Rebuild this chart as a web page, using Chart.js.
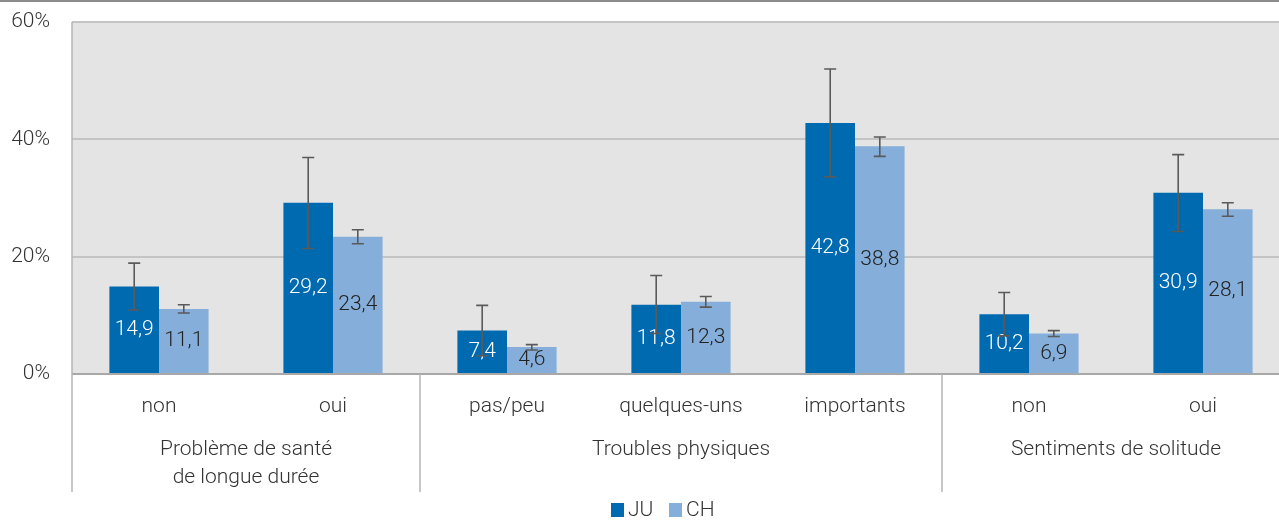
<!DOCTYPE html>
<html>
<head>
<meta charset="utf-8">
<script src="https://cdn.jsdelivr.net/npm/chart.js@4"></script>
<style>
  body { margin: 0; overflow: hidden; background: #fff; }
  #wrap { width: 1320px; height: 520px; }
</style>
</head>
<body>
<div id="wrap"><canvas id="myChart"></canvas></div>
<script>
// catégories et valeurs (en %)
const categories = ['non', 'oui', 'pas/peu', 'quelques-uns', 'importants', 'non', 'oui'];
const groupLabels = [['Problème de santé', 'de longue durée'], ['Troubles physiques'], ['Sentiments de solitude']];
const groupStart = [0, 2, 5];
const groupEnd = [1, 4, 6];

const juValues = [14.9, 29.2, 7.4, 11.8, 42.8, 10.2, 30.9];
const chValues = [11.1, 23.4, 4.6, 12.3, 38.8, 6.9, 28.1];

// intervalles de confiance
const juLow  = [10.9, 21.4, 3.1, 6.9, 33.6, 6.5, 24.3];
const juHigh = [18.9, 36.9, 11.7, 16.8, 52.0, 13.9, 37.4];
const chLow  = [10.4, 22.2, 4.1, 11.4, 37.1, 6.4, 26.9];
const chHigh = [11.8, 24.6, 5.0, 13.2, 40.4, 7.4, 29.2];

const yTicks = [0, 20, 40, 60];

const FONT = 'Roboto';
const FSIZE = 21;
const textColor = '#333333';

// fond gris, lignes de séparation, libellés des groupes et légende
const decoPlugin = {
    id: 'deco',
    beforeDraw(chart) {
        const { ctx, chartArea: a } = chart;
        ctx.save();
        ctx.fillStyle = '#e4e4e4';
        ctx.fillRect(a.left, a.top, a.right - a.left, a.bottom - a.top);
        ctx.restore();
    },
    afterDraw(chart) {
        const { ctx, chartArea: a } = chart;
        const x = chart.scales.x;
        const bottom = 492;
        ctx.save();
        // ligne en haut de l'image
        ctx.strokeStyle = '#8c8c8c';
        ctx.lineWidth = 2;
        ctx.beginPath();
        ctx.moveTo(0, 1);
        ctx.lineTo(chart.width, 1);
        ctx.stroke();

        ctx.strokeStyle = '#b4b4b4';
        ctx.lineWidth = 1.5;
        // bord gauche
        ctx.beginPath();
        ctx.moveTo(a.left, a.top);
        ctx.lineTo(a.left, bottom);
        ctx.stroke();
        // séparateurs entre groupes
        for (let g = 0; g < groupStart.length - 1; g++) {
            const px = (x.getPixelForValue(groupEnd[g]) + x.getPixelForValue(groupStart[g + 1])) / 2;
            ctx.beginPath();
            ctx.moveTo(px, a.bottom);
            ctx.lineTo(px, bottom);
            ctx.stroke();
        }
        // libellés des groupes
        ctx.fillStyle = textColor;
        ctx.font = '300 ' + FSIZE + 'px ' + FONT;
        ctx.textAlign = 'center';
        ctx.textBaseline = 'middle';
        groupLabels.forEach((lines, g) => {
            const cx = (x.getPixelForValue(groupStart[g]) + x.getPixelForValue(groupEnd[g])) / 2;
            lines.forEach((t, i) => ctx.fillText(t, cx, 450 + i * 28));
        });
        // légende
        let lx = 611;
        const ly = 510;
        ctx.textAlign = 'left';
        chart.data.datasets.forEach((ds) => {
            ctx.fillStyle = ds.backgroundColor;
            ctx.fillRect(lx, ly - 7, 13, 14);
            ctx.fillStyle = textColor;
            ctx.fillText(ds.label, lx + 17, ly + 1);
            lx += 58;
        });
        ctx.restore();
    }
};

// étiquettes de valeurs et barres d'erreur
const errorPlugin = {
    id: 'errs',
    afterDatasetsDraw(chart) {
        const { ctx } = chart;
        const y = chart.scales.y;
        const lows = [juLow, chLow];
        const highs = [juHigh, chHigh];
        const labelColors = ['#ffffff', '#222222'];
        ctx.save();
        chart.data.datasets.forEach((ds, d) => {
            const meta = chart.getDatasetMeta(d);
            meta.data.forEach((bar, i) => {
                ctx.fillStyle = labelColors[d];
                ctx.font = '300 ' + FSIZE + 'px ' + FONT;
                ctx.textAlign = 'center';
                ctx.textBaseline = 'middle';
                ctx.fillText(ds.data[i].toFixed(1).replace('.', ','), bar.x, (bar.y + bar.base) / 2);
            });
        });
        ctx.strokeStyle = '#5a5a5a';
        ctx.lineWidth = 1.6;
        chart.data.datasets.forEach((ds, d) => {
            const meta = chart.getDatasetMeta(d);
            meta.data.forEach((bar, i) => {
                const yl = y.getPixelForValue(lows[d][i]);
                const yh = y.getPixelForValue(highs[d][i]);
                ctx.beginPath();
                ctx.moveTo(bar.x, yl);
                ctx.lineTo(bar.x, yh);
                ctx.moveTo(bar.x - 6, yl);
                ctx.lineTo(bar.x + 6, yl);
                ctx.moveTo(bar.x - 6, yh);
                ctx.lineTo(bar.x + 6, yh);
                ctx.stroke();
            });
        });
        ctx.restore();
    }
};

const ctx = document.getElementById('myChart').getContext('2d');
const myChart = new Chart(ctx, {
    type: 'bar',
    data: {
        labels: categories,
        datasets: [
            { label: 'JU', data: juValues, backgroundColor: '#006ab0' },
            { label: 'CH', data: chValues, backgroundColor: '#85afda' }
        ]
    },
    options: {
        responsive: true,
        maintainAspectRatio: false,
        animation: false,
        categoryPercentage: 0.57,
        barPercentage: 1.0,
        layout: { padding: { top: 22, right: 30, left: 0, bottom: 0 } },
        plugins: {
            tooltip: { enabled: false },
            legend: { display: false }
        },
        scales: {
            x: {
                grid: { display: false },
                border: { display: false },
                ticks: {
                    color: textColor,
                    padding: 12,
                    maxRotation: 0,
                    autoSkip: false,
                    font: { family: FONT, size: FSIZE, weight: '300' }
                },
                afterFit(scale) { scale.height = 146; }
            },
            y: {
                min: 0,
                max: 60,
                afterBuildTicks(scale) { scale.ticks = yTicks.map(v => ({ value: v })); },
                border: { display: false },
                grid: {
                    drawTicks: false,
                    lineWidth: 2,
                    color: (c) => c.tick && c.tick.value === 0 ? '#a8a8a8' : '#c4c4c4'
                },
                ticks: {
                    color: textColor,
                    padding: 22,
                    font: { family: FONT, size: FSIZE, weight: '300' },
                    callback: (v) => v + '%'
                },
                afterFit(scale) {
                    scale.width = 72;
                    scale.paddingTop = 0;
                    scale.paddingBottom = 0;
                }
            }
        }
    },
    plugins: [decoPlugin, errorPlugin]
});
</script>
</body>
</html>
